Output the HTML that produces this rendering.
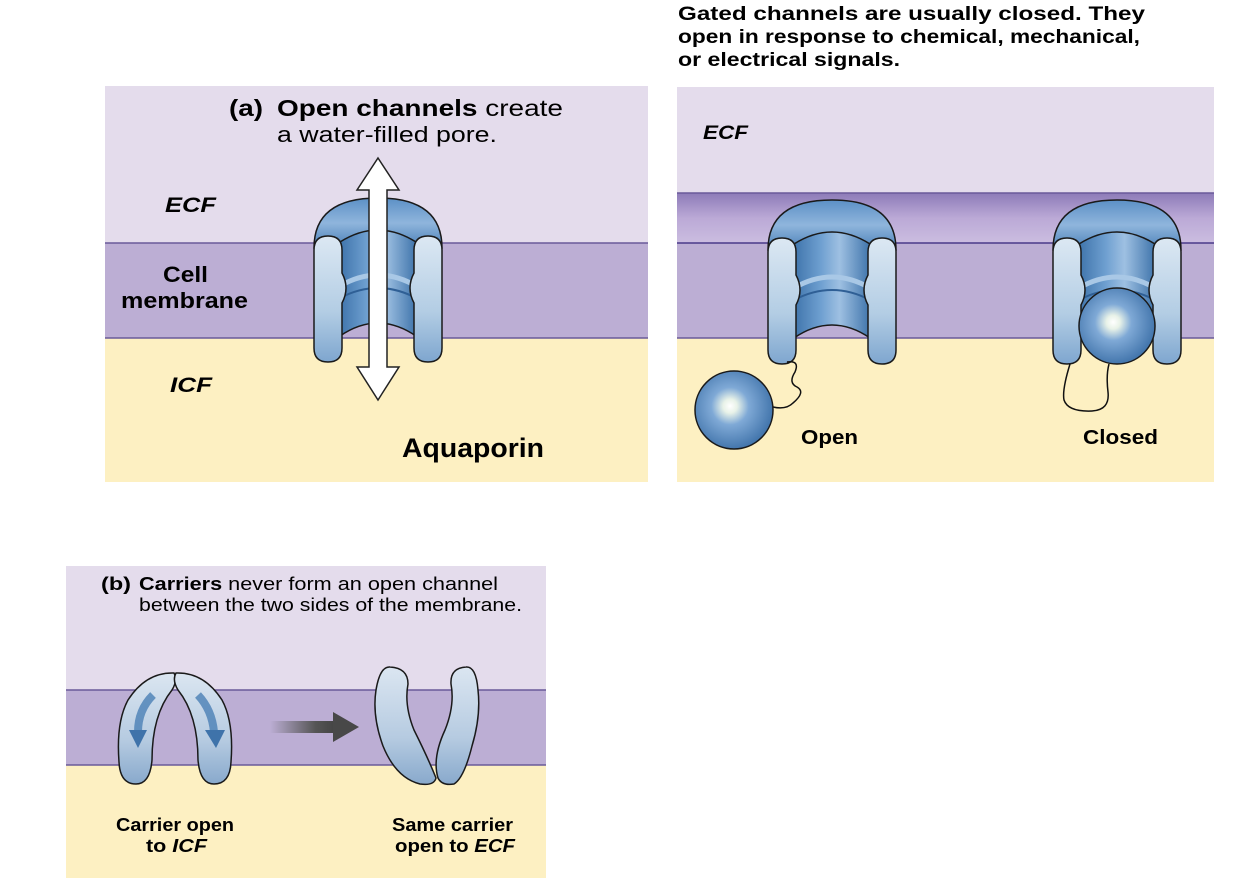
<!DOCTYPE html>
<html><head><meta charset="utf-8"><style>
html,body{margin:0;padding:0;background:#fff;}
svg{display:block;}
text{font-family:"Liberation Sans",Arial,sans-serif;}
</style></head><body>
<svg width="1246" height="890" viewBox="0 0 1246 890" xmlns="http://www.w3.org/2000/svg">
<defs>
<linearGradient id="blueH" x1="0" x2="1" y1="0" y2="0">
<stop offset="0" stop-color="#3f74ab"/><stop offset="0.35" stop-color="#6e9fd0"/><stop offset="0.6" stop-color="#9ec0e2"/><stop offset="1" stop-color="#3f74ab"/></linearGradient>
<linearGradient id="dome" x1="0" x2="0" y1="0" y2="1">
<stop offset="0" stop-color="#5c90c6"/><stop offset="0.5" stop-color="#8fb5dc"/><stop offset="1" stop-color="#4a80b8"/></linearGradient>
<linearGradient id="pillar" x1="0" x2="0" y1="0" y2="1">
<stop offset="0" stop-color="#dce8f3"/><stop offset="0.6" stop-color="#b3cde4"/><stop offset="1" stop-color="#7ea6cf"/></linearGradient>
<radialGradient id="ball" cx="0.45" cy="0.45" r="0.6">
<stop offset="0" stop-color="#ffffff"/><stop offset="0.15" stop-color="#e8f2e8"/><stop offset="0.4" stop-color="#7fa9d6"/><stop offset="1" stop-color="#3a6ea6"/></radialGradient>
<linearGradient id="band" x1="0" x2="0" y1="0" y2="1">
<stop offset="0" stop-color="#8d7bb8"/><stop offset="0.5" stop-color="#bba9d6"/><stop offset="1" stop-color="#cbbde0"/></linearGradient>
<linearGradient id="carrier" x1="0" x2="0" y1="0" y2="1">
<stop offset="0" stop-color="#dbe6f1"/><stop offset="0.6" stop-color="#b6cbe1"/><stop offset="1" stop-color="#88a9cc"/></linearGradient>
<linearGradient id="grayArrow" x1="0" x2="1">
<stop offset="0" stop-color="#555" stop-opacity="0"/><stop offset="0.7" stop-color="#555"/><stop offset="1" stop-color="#444"/></linearGradient>
<g id="chan">
<path d="M-64,50 Q-64,0 0,0 Q64,0 64,50 Z" fill="url(#dome)" stroke="#1a1a1a" stroke-width="1.5"/>
<path d="M-38,44 Q0,20 38,44 L38,138 Q0,112 -38,138 Z" fill="url(#blueH)" stroke="#1a1a1a" stroke-width="1.5"/>
<path d="M-38,88 Q0,66 38,88" fill="none" stroke="#a9c8e6" stroke-width="5"/>
<path d="M-38,100 Q0,80 38,100" fill="none" stroke="#2f5f95" stroke-width="2"/>
<path d="M-64,52 Q-64,38 -50,38 Q-36,38 -36,52 L-36,75 Q-28,90 -36,105 L-36,150 Q-36,164 -50,164 Q-64,164 -64,150 Z" fill="url(#pillar)" stroke="#1a1a1a" stroke-width="1.5"/>
<path d="M64,52 Q64,38 50,38 Q36,38 36,52 L36,75 Q28,90 36,105 L36,150 Q36,164 50,164 Q64,164 64,150 Z" fill="url(#pillar)" stroke="#1a1a1a" stroke-width="1.5"/>
</g>
</defs>

<!-- Panel a -->
<rect x="105" y="86" width="543" height="157" fill="#e4dcec"/>
<rect x="105" y="243" width="543" height="95" fill="#bcaed4"/>
<rect x="105" y="338" width="543" height="144" fill="#fdf0c2"/>
<line x1="105" y1="243" x2="648" y2="243" stroke="#6a5a9a" stroke-width="1.5"/>
<line x1="105" y1="338" x2="648" y2="338" stroke="#6a5a9a" stroke-width="1.5"/>
<use href="#chan" x="378" y="198"/>
<path d="M378,158 L399,190 L387,190 L387,367 L399,367 L378,400 L357,367 L369,367 L369,190 L357,190 Z" fill="#fff" stroke="#222" stroke-width="1.5"/>
<text x="229" y="116" font-size="23" font-weight="bold" textLength="34" lengthAdjust="spacingAndGlyphs">(a)</text>
<text x="277" y="116" font-size="23" font-weight="bold" textLength="286" lengthAdjust="spacingAndGlyphs">Open channels <tspan font-weight="normal">create</tspan></text>
<text x="277" y="142" font-size="22" textLength="220" lengthAdjust="spacingAndGlyphs">a water-filled pore.</text>
<text x="165" y="212" font-size="21" font-weight="bold" font-style="italic" textLength="51" lengthAdjust="spacingAndGlyphs">ECF</text>
<text x="163" y="282" font-size="22" font-weight="bold" textLength="45" lengthAdjust="spacingAndGlyphs">Cell</text>
<text x="121" y="308" font-size="22" font-weight="bold" textLength="127" lengthAdjust="spacingAndGlyphs">membrane</text>
<text x="170" y="392" font-size="21" font-weight="bold" font-style="italic" textLength="42" lengthAdjust="spacingAndGlyphs">ICF</text>
<text x="402" y="457" font-size="27" font-weight="bold" textLength="142" lengthAdjust="spacingAndGlyphs">Aquaporin</text>

<!-- Gated -->
<text x="678" y="20" font-size="19" font-weight="bold" textLength="467" lengthAdjust="spacingAndGlyphs">Gated channels are usually closed. They</text>
<text x="678" y="43" font-size="19" font-weight="bold" textLength="462" lengthAdjust="spacingAndGlyphs">open in response to chemical, mechanical,</text>
<text x="678" y="66" font-size="19" font-weight="bold" textLength="222" lengthAdjust="spacingAndGlyphs">or electrical signals.</text>
<rect x="677" y="87" width="537" height="106" fill="#e4dcec"/>
<rect x="677" y="193" width="537" height="50" fill="url(#band)"/>
<rect x="677" y="243" width="537" height="95" fill="#bcaed4"/>
<rect x="677" y="338" width="537" height="144" fill="#fdf0c2"/>
<line x1="677" y1="193" x2="1214" y2="193" stroke="#6a5a9a" stroke-width="1.5"/>
<line x1="677" y1="243" x2="1214" y2="243" stroke="#4a3a8a" stroke-width="1.5"/>
<line x1="677" y1="338" x2="1214" y2="338" stroke="#6a5a9a" stroke-width="1.5"/>
<text x="703" y="139" font-size="19" font-weight="bold" font-style="italic" textLength="45" lengthAdjust="spacingAndGlyphs">ECF</text>
<use href="#chan" x="832" y="200"/>
<use href="#chan" x="1117" y="200"/>
<path d="M787,362 Q800,360 795,372 Q788,383 797,387 Q806,392 793,403 Q786,410 773,407" fill="none" stroke="#111" stroke-width="1.5"/>
<circle cx="734" cy="410" r="39" fill="url(#ball)" stroke="#1a1a1a" stroke-width="1.5"/>
<circle cx="1117" cy="326" r="38" fill="url(#ball)" stroke="#1a1a1a" stroke-width="1.5"/>
<path d="M1070,364 Q1062,390 1064,400 Q1068,412 1092,411 Q1110,410 1108,392 Q1106,375 1109,364" fill="none" stroke="#111" stroke-width="1.5"/>
<text x="801" y="444" font-size="20" font-weight="bold" textLength="57" lengthAdjust="spacingAndGlyphs">Open</text>
<text x="1083" y="444" font-size="20" font-weight="bold" textLength="75" lengthAdjust="spacingAndGlyphs">Closed</text>

<!-- Panel b -->
<rect x="66" y="566" width="480" height="124" fill="#e4dcec"/>
<rect x="66" y="690" width="480" height="75" fill="#bcaed4"/>
<rect x="66" y="765" width="480" height="113" fill="#fdf0c2"/>
<line x1="66" y1="690" x2="546" y2="690" stroke="#6a5a9a" stroke-width="1.5"/>
<line x1="66" y1="765" x2="546" y2="765" stroke="#6a5a9a" stroke-width="1.5"/>
<text x="101" y="590" font-size="18" font-weight="bold" textLength="30" lengthAdjust="spacingAndGlyphs">(b)</text>
<text x="139" y="590" font-size="18" font-weight="bold" textLength="359" lengthAdjust="spacingAndGlyphs">Carriers <tspan font-weight="normal">never form an open channel</tspan></text>
<text x="139" y="611" font-size="18" font-weight="normal" textLength="383" lengthAdjust="spacingAndGlyphs">between the two sides of the membrane.</text>
<!-- left carrier -->
<path d="M174,673 Q178,680 172,690 Q152,715 152,760 Q150,784 136,784 Q120,784 119,762 Q116,722 128,700 Q146,672 174,673 Z" fill="url(#carrier)" stroke="#1a1a1a" stroke-width="1.5"/>
<path d="M176,673 Q172,680 178,690 Q198,715 198,760 Q200,784 214,784 Q230,784 231,762 Q234,722 222,700 Q204,672 176,673 Z" fill="url(#carrier)" stroke="#1a1a1a" stroke-width="1.5"/>
<path d="M153,695 Q138,710 138,732" fill="none" stroke="#4a7fb5" stroke-width="8" opacity="0.8"/>
<path d="M129,730 L138,748 L147,730 Z" fill="#3f73aa"/>
<path d="M198,695 Q212,710 214,732" fill="none" stroke="#4a7fb5" stroke-width="8" opacity="0.8"/>
<path d="M205,730 L216,748 L225,730 Z" fill="#3f73aa"/>
<!-- arrow -->
<rect x="270" y="721" width="65" height="12" fill="url(#grayArrow)"/>
<path d="M333,712 L359,727 L333,742 Z" fill="#484848"/>
<!-- right carrier -->
<path d="M390,667 Q408,668 408,684 Q404,705 414,730 Q428,758 436,778 Q434,786 420,784 Q396,778 383,746 Q372,716 376,690 Q380,666 390,667 Z" fill="url(#carrier)" stroke="#1a1a1a" stroke-width="1.5"/>
<path d="M466,667 Q450,668 451,684 Q455,705 445,730 Q432,758 438,778 Q442,786 454,784 Q464,778 472,746 Q481,716 478,690 Q476,666 466,667 Z" fill="url(#carrier)" stroke="#1a1a1a" stroke-width="1.5"/>
<text x="116" y="831" font-size="18" font-weight="bold" textLength="118" lengthAdjust="spacingAndGlyphs">Carrier open</text>
<text x="146" y="852" font-size="18" font-weight="bold" textLength="61" lengthAdjust="spacingAndGlyphs">to <tspan font-style="italic">ICF</tspan></text>
<text x="392" y="831" font-size="18" font-weight="bold" textLength="121" lengthAdjust="spacingAndGlyphs">Same carrier</text>
<text x="395" y="852" font-size="18" font-weight="bold" textLength="120" lengthAdjust="spacingAndGlyphs">open to <tspan font-style="italic">ECF</tspan></text>
</svg>
</body></html>
